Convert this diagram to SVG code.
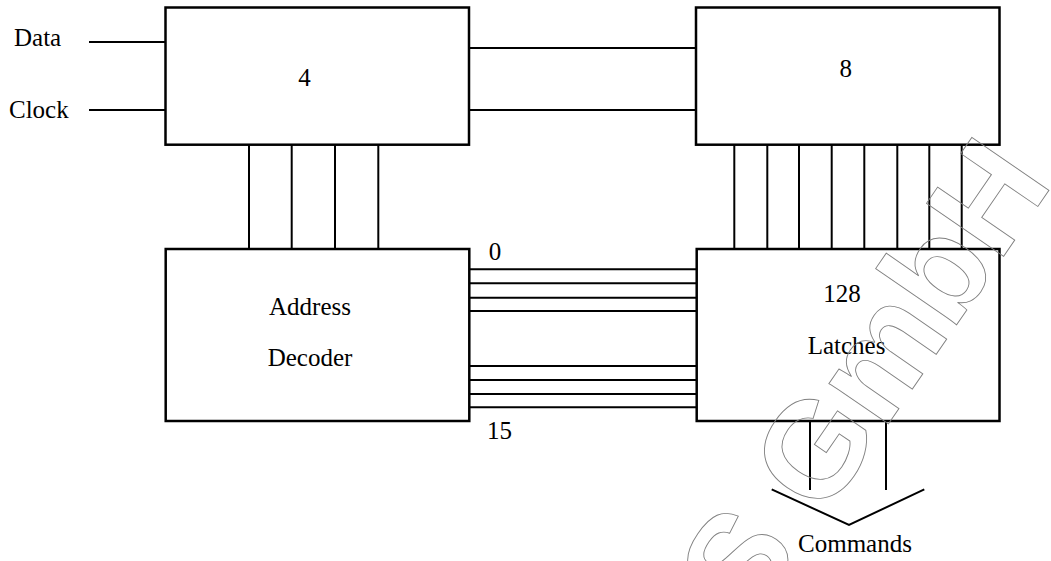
<svg xmlns="http://www.w3.org/2000/svg" width="1051" height="561" viewBox="0 0 1051 561">
<style>
.box{fill:#fff;stroke:#000;stroke-width:2.5}
.w{stroke:#000;stroke-width:2;fill:none}
.t{font-family:"Liberation Serif","Times New Roman",serif;font-size:25px;fill:#000}
.c{text-anchor:middle}
.wm{font-family:"Liberation Sans",Arial,sans-serif;font-size:136px;font-weight:bold;fill:none;stroke:#808080;stroke-width:0.9}
</style>
<rect width="1051" height="561" fill="#fff"/>
<g id="connectors">
<line class="w" x1="89" y1="42" x2="166" y2="42"/>
<line class="w" x1="89" y1="110" x2="166" y2="110"/>
<line class="w" x1="469" y1="48" x2="696" y2="48"/>
<line class="w" x1="469" y1="110" x2="696" y2="110"/>
<g id="bus4">
<line class="w" x1="249" y1="145" x2="249" y2="249"/>
<line class="w" x1="291.7" y1="145" x2="291.7" y2="249"/>
<line class="w" x1="335" y1="145" x2="335" y2="249"/>
<line class="w" x1="378.3" y1="145" x2="378.3" y2="249"/>
</g>
<g id="bus8">
<line class="w" x1="734.3" y1="145" x2="734.3" y2="249"/>
<line class="w" x1="767.3" y1="145" x2="767.3" y2="249"/>
<line class="w" x1="799" y1="145" x2="799" y2="249"/>
<line class="w" x1="831.7" y1="145" x2="831.7" y2="249"/>
<line class="w" x1="864.3" y1="145" x2="864.3" y2="249"/>
<line class="w" x1="897.3" y1="145" x2="897.3" y2="249"/>
<line class="w" x1="929.3" y1="145" x2="929.3" y2="249"/>
<line class="w" x1="961.7" y1="145" x2="961.7" y2="249"/>
</g>
<g id="bus16">
<line class="w" x1="469" y1="269.3" x2="697" y2="269.3"/>
<line class="w" x1="469" y1="283.3" x2="697" y2="283.3"/>
<line class="w" x1="469" y1="297.7" x2="697" y2="297.7"/>
<line class="w" x1="469" y1="311" x2="697" y2="311"/>
<line class="w" x1="469" y1="366" x2="697" y2="366"/>
<line class="w" x1="469" y1="380" x2="697" y2="380"/>
<line class="w" x1="469" y1="394" x2="697" y2="394"/>
<line class="w" x1="469" y1="407.3" x2="697" y2="407.3"/>
</g>
<line class="w" x1="810" y1="421" x2="810" y2="490"/>
<line class="w" x1="886" y1="421" x2="886" y2="490"/>
<polyline class="w" stroke-width="2.5" points="771.7,489.3 849,525 924.3,489.3"/>
</g>
<g id="shift4">
<rect class="box" x="165.5" y="7.5" width="303.5" height="137.2"/>
<text class="t c" x="304.5" y="86">4</text>
</g>
<g id="shift8">
<rect class="box" x="696" y="7.5" width="303.5" height="137.2"/>
<text class="t c" x="845.7" y="77.3">8</text>
</g>
<g id="decoder">
<rect class="box" x="165.7" y="249" width="303.6" height="172"/>
<text class="t c" x="310" y="315">Address</text>
<text class="t c" x="310" y="366">Decoder</text>
</g>
<g id="latches">
<rect class="box" x="696.7" y="249" width="302.8" height="172"/>
<text class="t c" x="842" y="301.7">128</text>
<text class="t c" x="846.5" y="354">Latches</text>
</g>
<g id="labels">
<text class="t" x="14" y="46">Data</text>
<text class="t" x="9" y="118">Clock</text>
<text class="t c" x="495" y="260">0</text>
<text class="t" x="487" y="439.3">15</text>
<text class="t c" x="855" y="551.7">Commands</text>
</g>
<g id="watermark" transform="translate(823,519) rotate(-55.5)">
<text class="wm" x="-128.5" y="0">S GmbH</text>
</g>
</svg>
